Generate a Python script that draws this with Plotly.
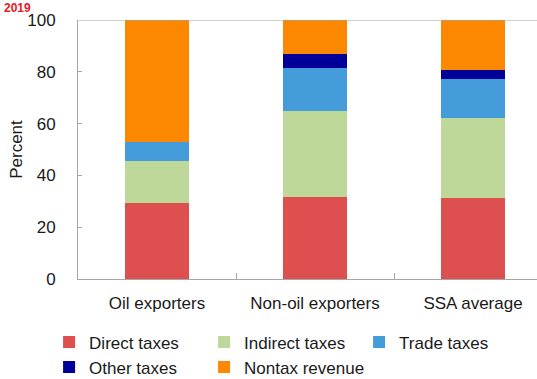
import plotly.graph_objects as go

# Revenue composition, share of total (percent)
groups = ["Oil exporters", "Non-oil exporters", "SSA average"]
direct_taxes = [29.3, 31.5, 31.3]
indirect_taxes = [16.4, 33.2, 30.7]
trade_taxes = [7.3, 16.9, 15.1]
other_taxes = [0.0, 5.2, 3.7]
nontax_revenue = [47.0, 13.2, 19.2]
y_ticks = [0, 20, 40, 60, 80, 100]

series = [
    ("Direct taxes", direct_taxes, "#DE504F"),
    ("Indirect taxes", indirect_taxes, "#BED89A"),
    ("Trade taxes", trade_taxes, "#449CDB"),
    ("Other taxes", other_taxes, "#000099"),
    ("Nontax revenue", nontax_revenue, "#FB8800"),
]

font = "Liberation Sans, Arial, sans-serif"

fig = go.Figure()
for name, vals, color in series:
    fig.add_trace(go.Bar(
        x=groups, y=vals, name=name,
        marker=dict(color=color, line=dict(width=0)),
        width=0.4,
    ))

fig.update_layout(
    barmode="stack",
    width=537, height=379,
    margin=dict(l=78, r=0, t=20, b=100, autoexpand=False),
    paper_bgcolor="white", plot_bgcolor="white",
    font=dict(family=font, size=17, color="#1a1a1a"),
    showlegend=True,
    legend=dict(
        orientation="h", x=-0.063, xanchor="left",
        yanchor="top", y=-0.175, traceorder="normal",
        entrywidth=110, entrywidthmode="pixels",
        font=dict(size=17), tracegroupgap=0, itemwidth=30,
        bgcolor="rgba(0,0,0,0)",
    ),
)

fig.update_xaxes(
    type="category", range=[-0.5, 2.405],
    showline=True, linecolor="#A6A6A6", linewidth=1,
    ticks="inside", ticklen=6, tickcolor="#A6A6A6", tickson="boundaries",
    ticklabelstandoff=9,
    showgrid=False, zeroline=False,
)
fig.update_yaxes(
    range=[0, 100], tickvals=y_ticks,
    showline=True, linecolor="#A6A6A6", linewidth=1,
    ticks="inside", ticklen=4, tickcolor="#A6A6A6",
    ticklabelstandoff=18,
    showgrid=False, zeroline=False,
    title=dict(text="Percent", standoff=0, font=dict(size=17)),
)

# top frame line at 100
fig.add_shape(type="line", xref="paper", yref="y", x0=0, x1=1, y0=100, y1=100,
              line=dict(color="#A6A6A6", width=1))

# chart year label in the top-left corner
fig.add_annotation(text="<b>2019</b>", xref="paper", yref="paper", x=-0.17, y=1.0,
                   yshift=3, xshift=2, xanchor="left", yanchor="bottom", showarrow=False,
                   font=dict(color="#E31B23", size=12, family=font))

fig.write_html("out.html")
